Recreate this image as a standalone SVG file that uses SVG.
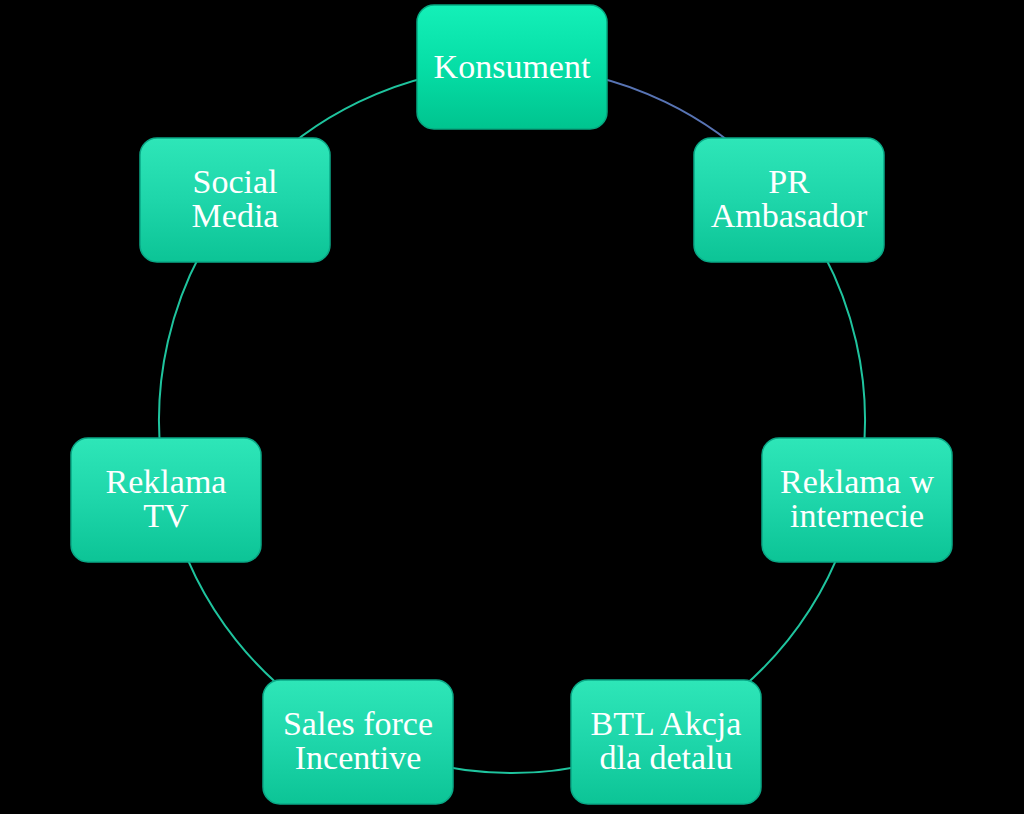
<svg xmlns="http://www.w3.org/2000/svg" width="1024" height="814" viewBox="0 0 1024 814">
<defs>
<linearGradient id="g" x1="0" y1="0" x2="0" y2="1">
<stop offset="0" stop-color="#2ee6b8"/>
<stop offset="0.5" stop-color="#1ed6aa"/>
<stop offset="1" stop-color="#0cc496"/>
</linearGradient>
<linearGradient id="gk" x1="0" y1="0" x2="0" y2="1">
<stop offset="0" stop-color="#14f0b8"/>
<stop offset="0.5" stop-color="#06dea6"/>
<stop offset="1" stop-color="#00c48f"/>
</linearGradient>
</defs>
<style>
.n{fill:url(#g);stroke:#0aa886;stroke-width:1.5}
.nk{fill:url(#gk);stroke:#06a880;stroke-width:1.5}
.t{font-family:"Liberation Serif","Times New Roman",serif;font-size:34px;fill:#ffffff;text-anchor:middle}
.c{fill:none;stroke:#1fc49e;stroke-width:2}
.cb{fill:none;stroke:#5874b4;stroke-width:2}
</style>
<rect x="0" y="0" width="1024" height="814" fill="#000000"/>
<g id="connectors">
<path class="cb" d="M512 67 A353 353 0 0 1 788 199.9"/>
<path class="c" d="M788 199.9 A353 353 0 0 1 856.1 498.5"/>
<path class="c" d="M856.1 498.5 A353 353 0 0 1 665.2 738.1"/>
<path class="c" d="M665.2 738.1 A353 353 0 0 1 358.8 738.1"/>
<path class="c" d="M358.8 738.1 A353 353 0 0 1 167.9 498.5"/>
<path class="c" d="M167.9 498.5 A353 353 0 0 1 236 199.9"/>
<path class="c" d="M236 199.9 A353 353 0 0 1 512 67"/>
</g>
<g id="konsument">
<rect class="nk" x="417" y="5" width="190" height="124" rx="17"/>
<text class="t" x="512" y="78">Konsument</text>
</g>
<g id="pr">
<rect class="n" x="694" y="138" width="190" height="124" rx="17"/>
<text class="t" x="789" y="193">PR</text>
<text class="t" x="789" y="227">Ambasador</text>
</g>
<g id="internet">
<rect class="n" x="762" y="438" width="190" height="124" rx="17"/>
<text class="t" x="857" y="493">Reklama w</text>
<text class="t" x="857" y="527">internecie</text>
</g>
<g id="btl">
<rect class="n" x="571" y="680" width="190" height="124" rx="17"/>
<text class="t" x="666" y="735">BTL Akcja</text>
<text class="t" x="666" y="769">dla detalu</text>
</g>
<g id="sales">
<rect class="n" x="263" y="680" width="190" height="124" rx="17"/>
<text class="t" x="358" y="735">Sales force</text>
<text class="t" x="358" y="769">Incentive</text>
</g>
<g id="tv">
<rect class="n" x="71" y="438" width="190" height="124" rx="17"/>
<text class="t" x="166" y="493">Reklama</text>
<text class="t" x="166" y="527">TV</text>
</g>
<g id="social">
<rect class="n" x="140" y="138" width="190" height="124" rx="17"/>
<text class="t" x="235" y="193">Social</text>
<text class="t" x="235" y="227">Media</text>
</g>
</svg>
